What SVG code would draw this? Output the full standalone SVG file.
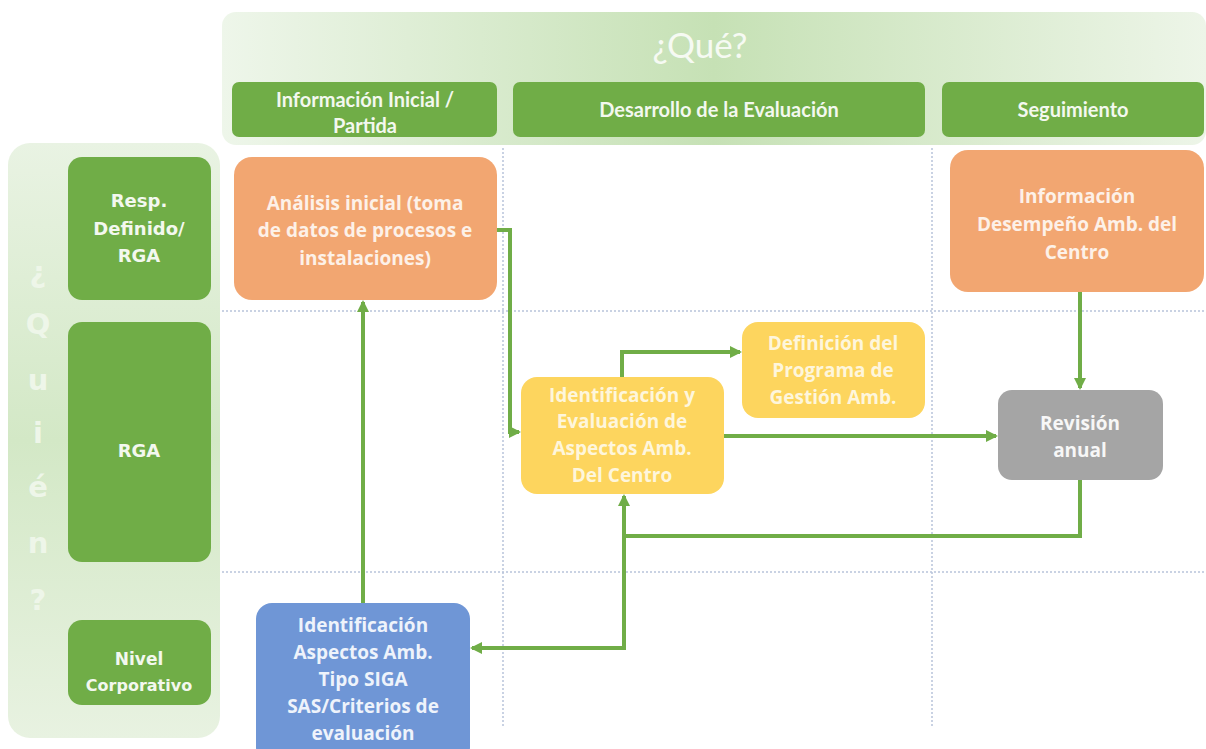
<svg xmlns="http://www.w3.org/2000/svg" width="1206" height="749" viewBox="0 0 1206 749">
<style>
.hdr{fill:#70ad47}
.hdrt{font-family:Lato,"Open Sans",sans-serif;font-size:20px;font-weight:700;fill:#f3f8ef;text-anchor:middle}
.lab{font-family:"DejaVu Sans",sans-serif;font-size:18px;font-weight:700;fill:#f3f8ef;text-anchor:middle}
.nt{font-family:"Open Sans",sans-serif;font-size:19px;font-weight:700;text-anchor:middle}
.grid{stroke:#b8c4da;stroke-width:1.5;stroke-dasharray:2 2;fill:none}
.con{stroke:#70ad47;stroke-width:4;fill:none}
.q{font-family:"DejaVu Sans",sans-serif;font-size:29px;font-weight:700;fill:#eef6e9;text-anchor:middle}
</style>
<defs>
<linearGradient id="gTop" x1="0" y1="0" x2="1" y2="0">
<stop offset="0" stop-color="#eef6ea"/>
<stop offset="0.5" stop-color="#c6e1b5"/>
<stop offset="1" stop-color="#edf5e8"/>
</linearGradient>
<linearGradient id="gLeft" x1="0" y1="0" x2="0" y2="1">
<stop offset="0" stop-color="#e9f3e3"/>
<stop offset="0.5" stop-color="#d3e8c6"/>
<stop offset="1" stop-color="#e8f2e1"/>
</linearGradient>
<marker id="ah" markerWidth="12" markerHeight="12" refX="10" refY="6" orient="auto" markerUnits="userSpaceOnUse">
<path d="M0,0 L12,6 L0,12 Z" fill="#70ad47"/>
</marker>
</defs>

<g id="header-que">
<rect x="222" y="12" width="984" height="133" rx="14" fill="url(#gTop)"/>
<text x="700" y="58" font-family="Lato,'Open Sans',sans-serif" font-size="35" fill="#f6faf3" text-anchor="middle">¿Qué?</text>
</g>
<g id="col-info">
<rect class="hdr" x="232" y="82" width="265" height="55" rx="7"/>
<text class="hdrt" x="365" y="107">Información Inicial /</text>
<text class="hdrt" x="365" y="133">Partida</text>
</g>
<g id="col-desarrollo">
<rect class="hdr" x="513" y="82" width="412" height="55" rx="7"/>
<text class="hdrt" x="719" y="117">Desarrollo de la Evaluación</text>
</g>
<g id="col-seguimiento">
<rect class="hdr" x="942" y="82" width="262" height="55" rx="7"/>
<text class="hdrt" x="1073" y="117">Seguimiento</text>
</g>

<g id="panel-quien">
<rect x="8" y="143" width="212" height="595" rx="22" fill="url(#gLeft)"/>
<text class="q" x="38" y="282">¿</text>
<text class="q" x="38" y="334">Q</text>
<text class="q" x="38" y="390">u</text>
<text class="q" x="38" y="443">i</text>
<text class="q" x="38" y="497">é</text>
<text class="q" x="38" y="553">n</text>
<text class="q" x="38" y="610">?</text>
</g>
<g id="row-resp">
<rect class="hdr" x="68" y="157" width="143" height="143" rx="14"/>
<text class="lab" x="139" y="207">Resp.</text>
<text class="lab" x="139" y="235">Definido/</text>
<text class="lab" x="139" y="262">RGA</text>
</g>
<g id="row-rga">
<rect class="hdr" x="68" y="322" width="143" height="240" rx="14"/>
<text class="lab" x="139" y="457">RGA</text>
</g>
<g id="row-nivel">
<rect class="hdr" x="68" y="620" width="143" height="85" rx="14"/>
<text class="lab" x="139" y="665" style="font-size:17px">Nivel</text>
<text class="lab" x="139" y="691" style="font-size:16px">Corporativo</text>
</g>

<g id="grid">
<line class="grid" x1="222" y1="311" x2="1206" y2="311"/>
<line class="grid" x1="222" y1="572" x2="1206" y2="572"/>
<line class="grid" x1="503" y1="148" x2="503" y2="727"/>
<line class="grid" x1="932" y1="148" x2="932" y2="727"/>
</g>

<g id="n-analisis">
<rect x="234" y="157" width="263" height="143" rx="18" fill="#f2a671"/>
<text class="nt" fill="#fdf1e8" x="365" y="210">Análisis inicial (toma</text>
<text class="nt" fill="#fdf1e8" x="365" y="237">de datos de procesos e</text>
<text class="nt" fill="#fdf1e8" x="365" y="265">instalaciones)</text>
</g>
<g id="n-desempeno">
<rect x="950" y="150" width="254" height="142" rx="18" fill="#f2a671"/>
<text class="nt" fill="#fdf1e8" x="1077" y="203">Información</text>
<text class="nt" fill="#fdf1e8" x="1077" y="231">Desempeño Amb. del</text>
<text class="nt" fill="#fdf1e8" x="1077" y="259">Centro</text>
</g>
<g id="n-definicion">
<rect x="742" y="322" width="183" height="96" rx="16" fill="#fdd55e"/>
<text class="nt" fill="#fef6dc" x="833" y="350">Definición del</text>
<text class="nt" fill="#fef6dc" x="833" y="377">Programa de</text>
<text class="nt" fill="#fef6dc" x="833" y="404">Gestión Amb.</text>
</g>
<g id="n-identificacion">
<rect x="521" y="377" width="203" height="117" rx="16" fill="#fdd55e"/>
<text class="nt" fill="#fef6dc" x="622" y="402">Identificación y</text>
<text class="nt" fill="#fef6dc" x="622" y="428">Evaluación de</text>
<text class="nt" fill="#fef6dc" x="622" y="455">Aspectos Amb.</text>
<text class="nt" fill="#fef6dc" x="622" y="482">Del Centro</text>
</g>
<g id="n-revision">
<rect x="998" y="390" width="165" height="90" rx="14" fill="#a5a5a5"/>
<text class="nt" fill="#f7f7f7" x="1080" y="430">Revisión</text>
<text class="nt" fill="#f7f7f7" x="1080" y="457">anual</text>
</g>
<g id="n-siga">
<rect x="256" y="603" width="214" height="160" rx="16" fill="#6f96d6"/>
<text class="nt" fill="#eef3fb" x="363" y="632">Identificación</text>
<text class="nt" fill="#eef3fb" x="363" y="659">Aspectos Amb.</text>
<text class="nt" fill="#eef3fb" x="363" y="686">Tipo SIGA</text>
<text class="nt" fill="#eef3fb" x="363" y="713">SAS/Criterios de</text>
<text class="nt" fill="#eef3fb" x="363" y="740">evaluación</text>
</g>

<g id="connectors">
<path class="con" d="M497,230 H510 V432 H519" marker-end="url(#ah)"/>
<path class="con" d="M622,377 V352 H740" marker-end="url(#ah)"/>
<path class="con" d="M724,436 H996" marker-end="url(#ah)"/>
<path class="con" d="M1080,292 V388" marker-end="url(#ah)"/>
<path class="con" d="M1080,480 V536 H624 V496" marker-end="url(#ah)"/>
<path class="con" d="M624,536 V648 H472" marker-end="url(#ah)"/>
<path class="con" d="M363,603 V302" marker-end="url(#ah)"/>
</g>
</svg>
